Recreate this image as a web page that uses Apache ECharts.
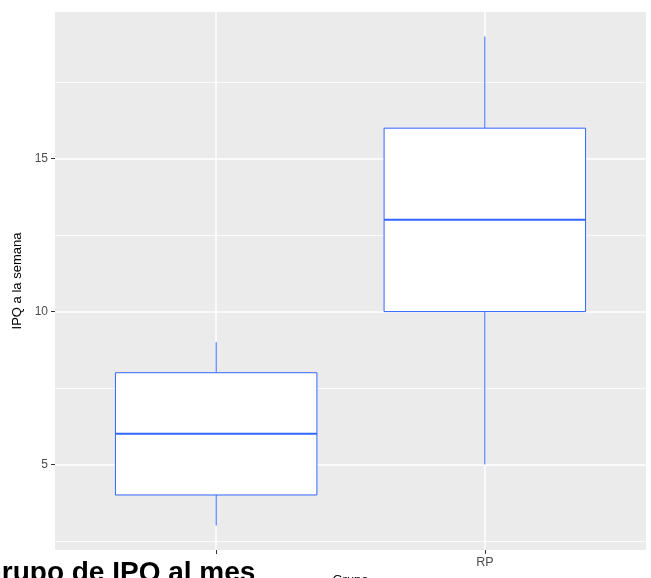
<!DOCTYPE html>
<html><head><meta charset="utf-8">
<script src="https://cdn.jsdelivr.net/npm/echarts@6/dist/echarts.min.js"></script>
<style>html,body{margin:0;padding:0;background:#fff}#c{width:651px;height:578px}</style>
</head><body><div id="c"></div>
<script>
// ---- data ----
const categories = ['', 'RP'];
const positions = [1, 2];
const whiskerLow = [3, 5];
const q1 = [4, 10];
const median = [6, 13];
const q3 = [8, 16];
const whiskerHigh = [9, 19];
const yTicks = [5, 10, 15];
const yMinorGrid = [2.5, 7.5, 12.5, 17.5];
const yRange = [2.2, 19.8];
const xRange = [0.4, 2.6];
const boxWidth = 0.75;

const boxData = positions.map((p, i) => [p, whiskerLow[i], q1[i], median[i], q3[i], whiskerHigh[i]]);
const BLUE = '#3366FF';

const gridLines = []
  .concat(yMinorGrid.map(v => ({ yAxis: v, lineStyle: { width: 0.8 } })))
  .concat(yTicks.map(v => ({ yAxis: v, lineStyle: { width: 1.5 } })))
  .concat(positions.map(v => ({ xAxis: v, lineStyle: { width: 1.5 } })));

const chart = echarts.init(document.getElementById('c'), null, { renderer: 'canvas' });
chart.setOption({
  animation: false,
  textStyle: { fontFamily: 'Liberation Sans, Arial, sans-serif' },
  grid: {
    left: 55, right: 5, top: 12, bottom: 28,
    show: true, backgroundColor: '#EBEBEB', borderWidth: 0,
    containLabel: false, outerBoundsMode: 'none'
  },
  xAxis: {
    type: 'value', min: xRange[0], max: xRange[1],
    axisLine: { show: false },
    splitLine: { show: false },
    axisTick: { customValues: positions, length: 4, lineStyle: { color: '#333333', width: 1 } },
    axisLabel: {
      customValues: positions,
      formatter: v => categories[positions.indexOf(v)] || '',
      color: '#4D4D4D', fontSize: 12.5, margin: 6
    },
    name: 'Grupo', nameLocation: 'middle', nameGap: 20,
    nameTextStyle: { color: '#000', fontSize: 13 }
  },
  yAxis: {
    type: 'value', min: yRange[0], max: yRange[1],
    axisLine: { show: false },
    splitLine: { show: false },
    axisTick: { customValues: yTicks, length: 4, lineStyle: { color: '#333333', width: 1 } },
    axisLabel: { customValues: yTicks, color: '#4D4D4D', fontSize: 12, margin: 7 },
    name: 'IPQ a la semana', nameLocation: 'middle', nameRotate: 90, nameGap: 21,
    nameTextStyle: { color: '#000', fontSize: 13 }
  },
  series: [{
    type: 'custom',
    z: 3,
    data: boxData,
    encode: { x: 0, y: [1, 2, 3, 4, 5] },
    renderItem: (params, api) => {
      const x = api.value(0);
      const half = boxWidth / 2;
      const pLow = api.coord([x, api.value(1)]);
      const pQ1 = api.coord([x, api.value(2)]);
      const pMed = api.coord([x, api.value(3)]);
      const pQ3 = api.coord([x, api.value(4)]);
      const pHigh = api.coord([x, api.value(5)]);
      const left = api.coord([x - half, api.value(2)])[0];
      const right = api.coord([x + half, api.value(2)])[0];
      const st = { stroke: BLUE, lineWidth: 1, fill: null };
      return {
        type: 'group',
        children: [
          { type: 'line', shape: { x1: pLow[0], y1: pLow[1], x2: pQ1[0], y2: pQ1[1] }, style: st },
          { type: 'line', shape: { x1: pQ3[0], y1: pQ3[1], x2: pHigh[0], y2: pHigh[1] }, style: st },
          { type: 'rect', shape: { x: left, y: pQ3[1], width: right - left, height: pQ1[1] - pQ3[1] },
            style: { fill: '#FFFFFF', stroke: BLUE, lineWidth: 1 } },
          { type: 'line', shape: { x1: left, y1: pMed[1], x2: right, y2: pMed[1] },
            style: { stroke: BLUE, lineWidth: 2 } }
        ]
      };
    },
    markLine: {
      z: 1, silent: true, symbol: 'none', animation: false,
      label: { show: false },
      lineStyle: { color: '#FFFFFF', type: 'solid', width: 1.5 },
      emphasis: { disabled: true },
      data: gridLines
    }
  }],
  graphic: [{
    type: 'text', left: -20, top: 559, z: 10,
    style: { text: 'Grupo de IPQ al mes', fill: '#000', font: 'bold 28px "Liberation Sans", Arial, sans-serif' }
  }]
});
</script></body></html>
